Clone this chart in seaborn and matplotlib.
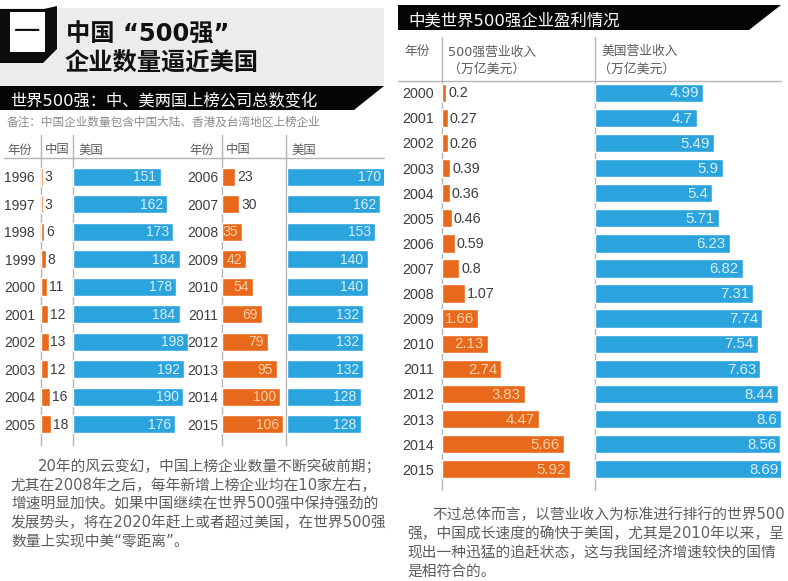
import matplotlib
matplotlib.use("Agg")
import matplotlib.pyplot as plt
from matplotlib.patches import Polygon, Rectangle
import seaborn as sns

# ---------- data ----------
years_a = ["1996", "1997", "1998", "1999", "2000", "2001", "2002", "2003", "2004", "2005"]
china_a = [3, 3, 6, 8, 11, 12, 13, 12, 16, 18]
usa_a = [151, 162, 173, 184, 178, 184, 198, 192, 190, 176]

years_b = ["2006", "2007", "2008", "2009", "2010", "2011", "2012", "2013", "2014", "2015"]
china_b = [23, 30, 35, 42, 54, 69, 79, 95, 100, 106]
usa_b = [170, 162, 153, 140, 140, 132, 132, 132, 128, 128]

years_r = ["2000", "2001", "2002", "2003", "2004", "2005", "2006", "2007",
           "2008", "2009", "2010", "2011", "2012", "2013", "2014", "2015"]
rev_china = [0.2, 0.27, 0.26, 0.39, 0.36, 0.46, 0.59, 0.8,
             1.07, 1.66, 2.13, 2.74, 3.83, 4.47, 5.66, 5.92]
rev_usa = [4.99, 4.7, 5.49, 5.9, 5.4, 5.71, 6.23, 6.82,
           7.31, 7.74, 7.54, 7.63, 8.44, 8.6, 8.56, 8.69]
rev_china_lbl = ["0.2", "0.27", "0.26", "0.39", "0.36", "0.46", "0.59", "0.8",
                 "1.07", "1.66", "2.13", "2.74", "3.83", "4.47", "5.66", "5.92"]
rev_usa_lbl = ["4.99", "4.7", "5.49", "5.9", "5.4", "5.71", "6.23", "6.82",
               "7.31", "7.74", "7.54", "7.63", "8.44", "8.6", "8.56", "8.69"]

left_body = ["20年的风云变幻，中国上榜企业数量不断突破前期；",
             "尤其在2008年之后，每年新增上榜企业均在10家左右，",
             "增速明显加快。如果中国继续在世界500强中保持强劲的",
             "发展势头，将在2020年赶上或者超过美国，在世界500强",
             "数量上实现中美“零距离”。"]
right_body = ["不过总体而言，以营业收入为标准进行排行的世界500",
              "强，中国成长速度的确快于美国，尤其是2010年以来，呈",
              "现出一种迅猛的追赶状态，这与我国经济增速较快的国情",
              "是相符合的。"]

# ---------- styling ----------
ORANGE = "#e8681c"
BLUE = "#2ba3dd"
LBL_ORANGE = "#f8d2a8"
LBL_BLUE = "#d8f0f8"
INK = "#3c3c3c"
GRAY = "#5c5c5c"
LINE = "#b4b4b4"
WIDE = ["DejaVu Sans", "Noto Sans CJK SC"]

sns.set_theme(style="white")
plt.rcParams["font.family"] = ["Liberation Sans", "Noto Sans CJK SC", "DejaVu Sans"]

W, H = 788, 581
fig = plt.figure(figsize=(W / 100, H / 100), dpi=100, facecolor="white")

bg = fig.add_axes([0, 0, 1, 1], zorder=0)
bg.set_xlim(0, W)
bg.set_ylim(H, 0)
bg.axis("off")


def px_axes(x0, x1, y0, y1):
    return fig.add_axes([x0 / W, 1 - y1 / H, (x1 - x0) / W, (y1 - y0) / H],
                        zorder=2, facecolor="none")


def bars(values, cats, color, x0, x1, c_first, c_last, scale, width, labels,
         inside_from, in_color, in_size, out_size, tick_pad=None):
    n = len(values)
    step = (c_last - c_first) / (n - 1)
    ax = px_axes(x0, x1, c_first - step / 2, c_last + step / 2)
    sns.barplot(x=values, y=cats, color=color, orient="h", width=width,
                saturation=1, ax=ax)
    ax.set_xlim(0, (x1 - x0) / scale)
    ax.set_ylim(n - 0.5, -0.5)
    ax.set_xticks([])
    ax.set_xlabel("")
    ax.set_ylabel("")
    sns.despine(ax=ax, left=True, bottom=True)
    if tick_pad is None:
        ax.set_yticks([])
    else:
        ax.tick_params(axis="y", length=0, pad=tick_pad, labelsize=out_size,
                       labelcolor=INK)
    for i, (v, s) in enumerate(zip(values, labels)):
        if v >= inside_from:
            ax.annotate(s, (v, i), xytext=(-3, -0.5), textcoords="offset points",
                        ha="right", va="center", color=in_color, fontsize=in_size,
                        annotation_clip=False)
        else:
            ax.annotate(s, (v, i), xytext=(1.3, -0.5), textcoords="offset points",
                        ha="left", va="center", color=INK, fontsize=out_size,
                        annotation_clip=False)
    return ax


# ---------- left panel header ----------
bg.add_patch(Rectangle((0, 8), 384, 78, color="#ececec", lw=0))
bg.add_patch(Polygon([(0, 9), (44, 9), (57, 6), (57, 49), (43, 63), (0, 63)], color="#0c0c0c", lw=0))
bg.add_patch(Rectangle((10, 12), 35, 40, color="white", lw=0))
bg.text(27.5, 33, "一", ha="center", va="center", fontsize=19, color="#111111")
bg.text(66, 35, "中国 “500强”", ha="left", va="center", fontsize=17.5,
        fontweight="bold", color="#111111", family=WIDE)
bg.text(65, 64, "企业数量逼近美国", ha="left", va="center", fontsize=17.5,
        fontweight="bold", color="#111111")
bg.add_patch(Polygon([(0, 86), (384, 86), (354, 110), (0, 110)], color="#050505", lw=0))
bg.text(10, 101, "世界500强：中、美两国上榜公司总数变化", ha="left", va="center",
        fontsize=11.7, color="white", fontweight="medium", family=WIDE)
bg.text(7, 122.5, "备注：中国企业数量包含中国大陆、香港及台湾地区上榜企业", ha="left", va="center",
        fontsize=8.4, color="#8a8a8a")

for x, s in [(7, "年份"), (45, "中国"), (78, "美国"), (189, "年份"), (226, "中国"), (291, "美国")]:
    bg.text(x, 150.5, s, ha="left", va="center", fontsize=8.9, color=GRAY)
bg.plot([4, 384], [158, 158], color=LINE, lw=1)
for x in (41, 73, 222, 286.5):
    bg.plot([x, x], [135, 445], color=LINE, lw=1)

# ---------- left tables ----------
LS = 0.58
LA, LB = 176.7, 424.3
bars(china_a, years_a, ORANGE, 41, 70, LA, LB, LS, 0.65, [str(v) for v in china_a],
     1000, LBL_ORANGE, 10, 10, tick_pad=4.3)
bars(usa_a, years_a, BLUE, 73, 188, LA, LB, LS, 0.65, [str(v) for v in usa_a],
     0, LBL_BLUE, 10, 10)
bars(china_b, years_b, ORANGE, 222, 285, LA, LB, LS, 0.65, [str(v) for v in china_b],
     35, LBL_ORANGE, 10, 10, tick_pad=2.5)
bars(usa_b, years_b, BLUE, 286.5, 384, LA, LB, LS, 0.65, [str(v) for v in usa_b],
     0, LBL_BLUE, 10, 10)

# ---------- left body ----------
for i, (s, y) in enumerate(zip(left_body, (467, 486, 504, 523, 542))):
    bg.text(38 if i == 0 else 11, y, s, ha="left", va="center", fontsize=10.6,
            color=GRAY, family=WIDE)

# ---------- right panel ----------
bg.add_patch(Polygon([(398, 5), (781, 5), (749, 30), (398, 30)], color="#050505", lw=0))
bg.text(408, 21, "中美世界500强企业盈利情况", ha="left", va="center", fontsize=11.8,
        color="white", fontweight="medium", family=WIDE)
bg.text(404, 52, "年份", ha="left", va="center", fontsize=9.2, color=GRAY)
bg.text(448, 52, "500强营业收入", ha="left", va="center", fontsize=9.2, color=GRAY, family=WIDE)
bg.text(448.5, 69.5, "（万亿美元）", ha="left", va="center", fontsize=9.3, color=GRAY)
bg.text(601, 52, "美国营业收入", ha="left", va="center", fontsize=9.2, color=GRAY)
bg.text(598, 69.5, "（万亿美元）", ha="left", va="center", fontsize=9.3, color=GRAY)
bg.plot([398, 781], [81, 81], color=LINE, lw=1)
for x in (442, 595.3):
    bg.plot([x, x], [37, 490], color=LINE, lw=1)

RS = 21.6
RA, RB = 92.7, 469.3
bars(rev_china, years_r, ORANGE, 442, 594, RA, RB, RS, 0.73, rev_china_lbl,
     1.5, LBL_ORANGE, 10.8, 10.3, tick_pad=6)
bars(rev_usa, years_r, BLUE, 595.3, 781, RA, RB, RS, 0.73, rev_usa_lbl,
     0, LBL_BLUE, 10.8, 10.3)

for i, (s, y) in enumerate(zip(right_body, (515, 534, 553, 572))):
    bg.text(432 if i == 0 else 407, y, s, ha="left", va="center", fontsize=10.6,
            color=GRAY, family=WIDE)

fig.savefig("out.png", dpi=100, facecolor="white")
